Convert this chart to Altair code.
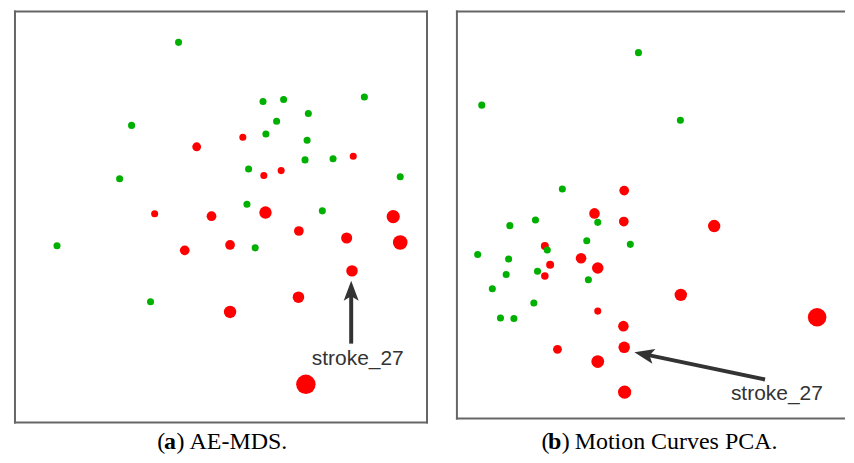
import altair as alt
import pandas as pd

# ---------------- data (normalised embedding coords, 0-100) ----------------
# Panel (a) AE-MDS
A_GREEN_X = [39.7, 84.8, 60.2, 65.2, 71.2, 28.3, 63.5, 60.9, 70.9, 70.4, 77.2, 56.7, 25.4, 93.5, 56.3, 74.6, 10.2, 58.3, 32.9]
A_GREEN_Y = [92.5, 79.2, 78.1, 78.6, 75.2, 72.3, 73.3, 70.2, 68.7, 63.9, 64.2, 61.7, 59.3, 59.8, 53.1, 51.5, 43.0, 42.5, 29.4]
A_RED_X = [55.3, 44.1, 82.1, 60.4, 64.6, 33.9, 47.7, 60.8, 91.8, 68.9, 80.5, 93.5, 41.2, 52.2, 81.8, 68.8, 52.2, 70.6]
A_RED_Y = [69.4, 67.1, 64.8, 60.1, 61.3, 50.8, 50.2, 51.1, 50.1, 46.6, 44.9, 43.8, 41.9, 43.2, 36.9, 30.5, 26.9, 9.3]
A_RED_D = [8, 10, 8, 8, 8, 8, 11, 14, 15, 11, 12.5, 16.5, 11, 11, 13, 13, 14, 22]

# Panel (b) Motion Curves PCA
B_GREEN_X = [44.6, 6.1, 54.9, 25.9, 13.0, 19.3, 34.6, 31.9, 42.6, 5.1, 12.7, 22.2, 12.1, 19.8, 32.3, 8.7, 18.9, 10.7, 14.0]
B_GREEN_Y = [89.9, 77.0, 73.3, 56.4, 47.4, 48.8, 48.2, 43.7, 42.8, 40.3, 39.2, 41.4, 35.4, 36.2, 34.1, 31.9, 28.4, 24.7, 24.6]
B_RED_X = [41.1, 33.8, 41.0, 63.2, 21.6, 30.5, 34.6, 22.9, 21.6, 55.0, 34.6, 40.9, 88.5, 41.1, 24.7, 34.6, 41.2]
B_RED_Y = [56.0, 50.4, 48.4, 47.3, 42.4, 39.4, 37.0, 37.8, 35.0, 30.4, 26.4, 22.7, 24.9, 17.5, 17.0, 14.0, 6.5]
B_RED_D = [11, 12, 11, 14, 9, 12, 13, 9, 8.5, 14, 8, 12, 21, 13, 10, 14.5, 15]

GREEN_D = 8

# annotation arrows: tail, shaft end, tip, head angle, label position
A_ARROW = dict(x0=81.6, y0=19.2, x1=81.6, y1=31.6, tx=81.6, ty=34.5, ang=270, lx=83.2, ly=15.5, txt="stroke_27")
B_ARROW = dict(x0=75.7, y0=9.6, x1=46.5, y1=15.7, tx=43.6, ty=16.3, ang=191.9, lx=78.6, ly=6.1, txt="stroke_27")

A_CAPTION = ["(", "a", ")", "AE-MDS."]
B_CAPTION = ["(", "b", ")", "Motion Curves PCA."]
A_CAP_POS = [142.7, 149.3, 161.8, 175]
B_CAP_POS = [84.7, 91.3, 105, 118]
CAP_BASELINE = 439

GREEN = "#00b000"
RED = "#ff0000"
INK = "#333333"
FRAME = "#666666"
HEAD = "M0,0L-2,-0.75L-1.55,0L-2,0.75Z"


def points_df(gx, gy, rx, ry, rd):
    red = pd.DataFrame({"x": rx, "y": ry, "d": rd, "group": "stroke"})
    green = pd.DataFrame({"x": gx, "y": gy, "d": [GREEN_D] * len(gx), "group": "control"})
    return pd.concat([red, green], ignore_index=True)


def panel(pts, arrow, cap, cap_pos, width, height, xmax, closed):
    xs = alt.Scale(domain=[0, xmax], nice=False, zero=False)
    ys = alt.Scale(domain=[0, 100], nice=False, zero=False)
    pts_layer = alt.Chart(pts).mark_circle(opacity=1).encode(
        x=alt.X("x:Q", scale=xs, axis=None),
        y=alt.Y("y:Q", scale=ys, axis=None),
        color=alt.Color("group:N", scale=alt.Scale(domain=["stroke", "control"], range=[RED, GREEN]), legend=None),
        size=alt.Size("d:Q", scale=alt.Scale(type="pow", exponent=2, domain=[0, 22], range=[0, 380]), legend=None),
    )
    adf = pd.DataFrame([arrow])
    shaft = alt.Chart(adf).mark_rule(color=INK, strokeWidth=4).encode(
        x=alt.X("x0:Q", scale=xs, axis=None), y=alt.Y("y0:Q", scale=ys, axis=None),
        x2="x1:Q", y2="y1:Q",
    )
    head = alt.Chart(adf).mark_point(shape=HEAD, filled=True, color=INK, opacity=1, size=400,
                                     angle=arrow["ang"], strokeWidth=0).encode(
        x=alt.X("tx:Q", scale=xs, axis=None), y=alt.Y("ty:Q", scale=ys, axis=None),
    )
    label = alt.Chart(adf).mark_text(font="Liberation Sans", fontSize=21, color=INK,
                                     align="center", baseline="middle").encode(
        x=alt.X("lx:Q", scale=xs, axis=None), y=alt.Y("ly:Q", scale=ys, axis=None), text="txt:N",
    )
    cdf = pd.DataFrame({"t": cap, "px": cap_pos, "bold": [False, True, False, False]})
    cap_reg = alt.Chart(cdf).transform_filter("!datum.bold").mark_text(
        font="Liberation Serif", fontSize=24, color="#000", align="left", baseline="alphabetic"
    ).encode(x=alt.X("px:Q", scale=None), y=alt.value(CAP_BASELINE), text="t:N")
    cap_bold = alt.Chart(cdf).transform_filter("datum.bold").mark_text(
        font="Liberation Serif", fontSize=24, fontWeight="bold", color="#000", align="left", baseline="alphabetic"
    ).encode(x=alt.X("px:Q", scale=None), y=alt.value(CAP_BASELINE), text="t:N")

    one = pd.DataFrame({"k": [0]})
    rule = dict(color=FRAME, strokeWidth=2, strokeCap="square")
    frame = [
        alt.Chart(one).mark_rule(**rule).encode(x=alt.value(0), x2=alt.value(width), y=alt.value(0)),
        alt.Chart(one).mark_rule(**rule).encode(x=alt.value(0), x2=alt.value(width), y=alt.value(height)),
        alt.Chart(one).mark_rule(**rule).encode(x=alt.value(0), y=alt.value(0), y2=alt.value(height)),
    ]
    if closed:
        frame.append(alt.Chart(one).mark_rule(**rule).encode(x=alt.value(width), y=alt.value(0), y2=alt.value(height)))
    return alt.layer(*frame, pts_layer, shaft, head, label, cap_reg, cap_bold).properties(width=width, height=height)


pa = panel(points_df(A_GREEN_X, A_GREEN_Y, A_RED_X, A_RED_Y, A_RED_D), A_ARROW, A_CAPTION, A_CAP_POS,
           413, 412, 100, True)
pb = panel(points_df(B_GREEN_X, B_GREEN_Y, B_RED_X, B_RED_Y, B_RED_D), B_ARROW, B_CAPTION, B_CAP_POS,
           388, 408, 95.1, False)

chart = alt.hconcat(pa, pb, spacing=30, bounds="flush").properties(
    padding={"left": 5, "top": 1, "right": 0, "bottom": 0}
).configure_view(stroke="transparent")

chart.save("out.html", embed_options={"renderer": "svg", "actions": False})
